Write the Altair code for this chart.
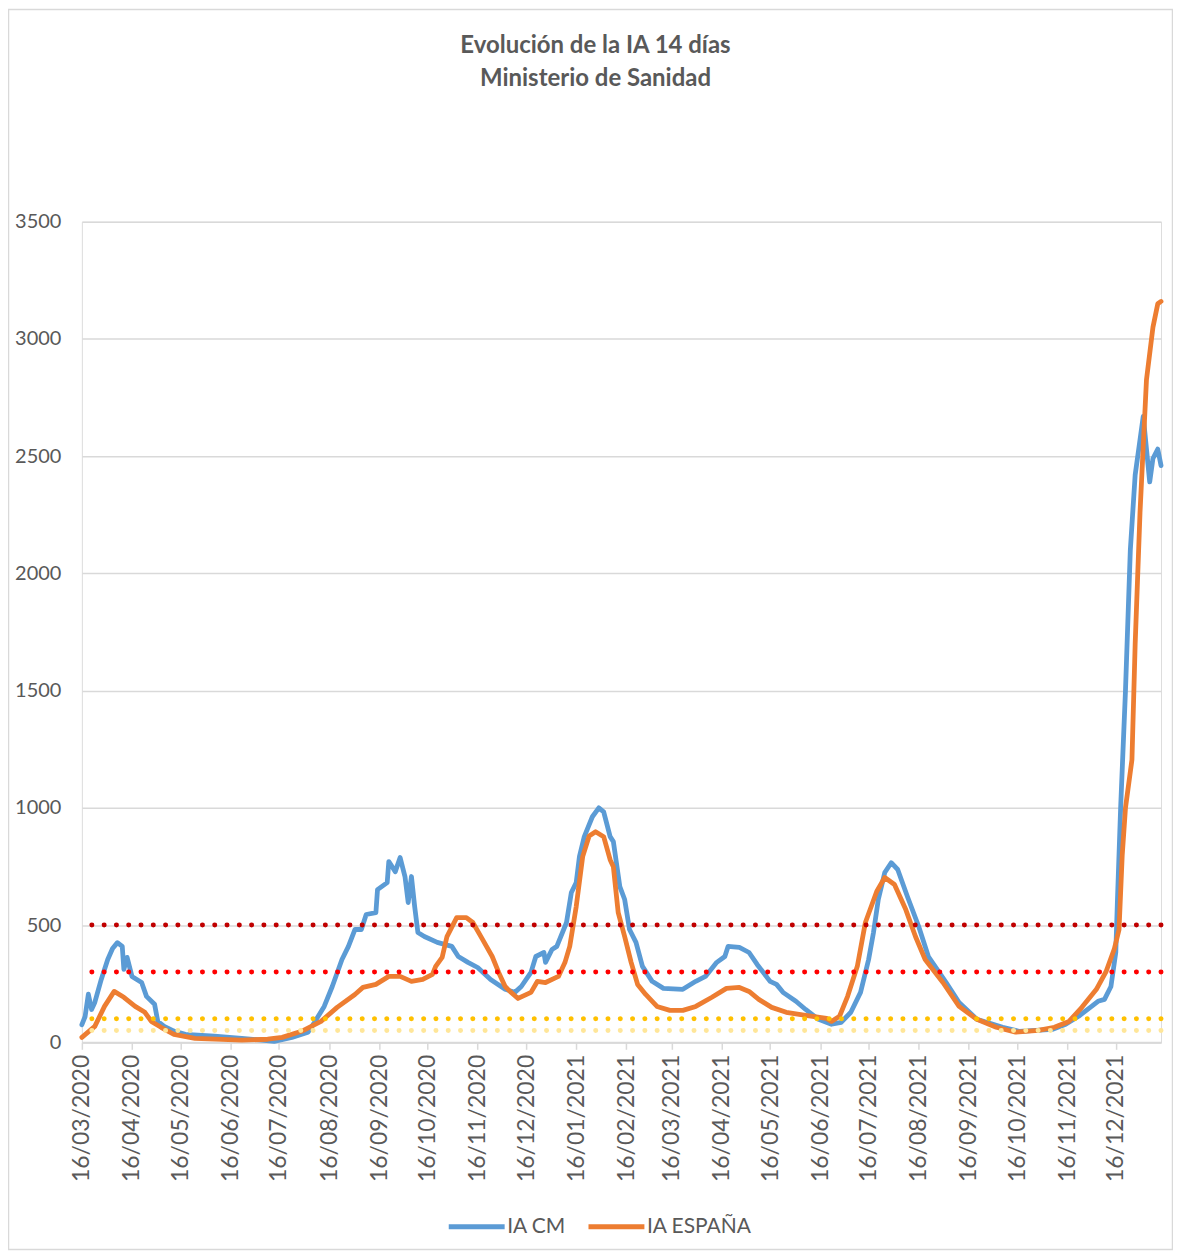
import altair as alt
import pandas as pd

# ---- data ----
cm_dates = [
    "2020-03-16", "2020-03-18", "2020-03-20", "2020-03-22", "2020-03-24", "2020-03-28",
    "2020-04-01", "2020-04-04", "2020-04-07", "2020-04-10", "2020-04-11", "2020-04-13",
    "2020-04-16", "2020-04-22", "2020-04-25", "2020-04-30", "2020-05-02", "2020-05-06",
    "2020-05-12", "2020-05-19", "2020-06-06", "2020-06-23", "2020-07-13", "2020-07-24",
    "2020-08-03", "2020-08-07", "2020-08-13", "2020-08-18", "2020-08-24", "2020-08-28",
    "2020-09-01", "2020-09-05", "2020-09-08", "2020-09-14", "2020-09-15", "2020-09-21",
    "2020-09-22", "2020-09-26", "2020-09-29", "2020-10-02", "2020-10-04", "2020-10-06",
    "2020-10-08", "2020-10-10", "2020-10-14", "2020-10-22", "2020-10-31", "2020-11-04",
    "2020-11-10", "2020-11-16", "2020-11-24", "2020-12-03", "2020-12-09", "2020-12-13",
    "2020-12-19", "2020-12-22", "2020-12-27", "2020-12-28", "2021-01-01", "2021-01-04",
    "2021-01-10", "2021-01-13", "2021-01-16", "2021-01-18", "2021-01-21", "2021-01-26",
    "2021-01-30", "2021-02-02", "2021-02-06", "2021-02-08", "2021-02-12", "2021-02-15",
    "2021-02-18", "2021-02-22", "2021-02-26", "2021-03-04", "2021-03-11", "2021-03-23",
    "2021-03-31", "2021-04-06", "2021-04-13", "2021-04-18", "2021-04-20", "2021-04-27",
    "2021-05-03", "2021-05-08", "2021-05-16", "2021-05-20", "2021-05-24", "2021-06-01",
    "2021-06-07", "2021-06-15", "2021-06-23", "2021-06-29", "2021-07-05", "2021-07-11",
    "2021-07-16", "2021-07-19", "2021-07-22", "2021-07-26", "2021-07-30", "2021-08-03",
    "2021-08-09", "2021-08-16", "2021-08-22", "2021-09-02", "2021-09-10", "2021-09-21",
    "2021-10-07", "2021-10-17", "2021-11-07", "2021-11-15", "2021-11-23", "2021-12-01",
    "2021-12-05", "2021-12-09", "2021-12-13", "2021-12-16", "2021-12-17", "2021-12-19",
    "2021-12-22", "2021-12-25", "2021-12-28", "2022-01-02", "2022-01-06", "2022-01-08",
    "2022-01-11", "2022-01-13",
]
cm_values = [
    75, 110, 205, 140, 170, 268,
    353, 400, 425, 409, 311, 362,
    281, 255, 196, 162, 89, 68,
    48, 34, 26, 17, 4, 21,
    43, 85, 153, 238, 353, 409,
    481, 481, 545, 553, 651, 681,
    771, 728, 788, 707, 596, 707,
    579, 468, 451, 426, 409, 366,
    341, 319, 268, 226, 213, 238,
    298, 366, 383, 341, 396, 409,
    511, 639, 681, 792, 877, 962,
    1000, 983, 877, 856, 664, 609,
    481, 426, 324, 260, 230, 226,
    260, 281, 341, 366, 409, 405,
    383, 332, 260, 247, 213, 175,
    140, 98, 77, 85, 128, 213,
    353, 468, 609, 724, 766, 737,
    622, 494, 366, 255, 170, 98,
    64, 47, 55, 77, 111, 153,
    175, 183, 238, 383, 600, 1000,
    1500, 2100, 2420, 2670, 2390, 2490,
    2530, 2460,
]

esp_dates = [
    "2020-03-16", "2020-03-24", "2020-03-30", "2020-04-05", "2020-04-11", "2020-04-18",
    "2020-04-24", "2020-04-28", "2020-05-04", "2020-05-12", "2020-05-25", "2020-06-23",
    "2020-07-09", "2020-07-18", "2020-07-30", "2020-08-11", "2020-08-21", "2020-09-01",
    "2020-09-06", "2020-09-14", "2020-09-22", "2020-09-29", "2020-10-06", "2020-10-13",
    "2020-10-19", "2020-10-21", "2020-10-25", "2020-10-28", "2020-11-03", "2020-11-09",
    "2020-11-13", "2020-11-19", "2020-11-25", "2020-11-29", "2020-12-03", "2020-12-06",
    "2020-12-11", "2020-12-19", "2020-12-23", "2020-12-28", "2021-01-05", "2021-01-09",
    "2021-01-12", "2021-01-16", "2021-01-20", "2021-01-24", "2021-01-28", "2021-02-02",
    "2021-02-06", "2021-02-08", "2021-02-11", "2021-02-15", "2021-02-19", "2021-02-23",
    "2021-02-28", "2021-03-07", "2021-03-15", "2021-03-23", "2021-03-31", "2021-04-10",
    "2021-04-19", "2021-04-27", "2021-05-03", "2021-05-09", "2021-05-17", "2021-05-26",
    "2021-06-07", "2021-06-20", "2021-06-23", "2021-06-28", "2021-07-03", "2021-07-09",
    "2021-07-14", "2021-07-21", "2021-07-26", "2021-08-01", "2021-08-08", "2021-08-14",
    "2021-08-20", "2021-08-31", "2021-09-10", "2021-09-21", "2021-10-03", "2021-10-15",
    "2021-10-29", "2021-11-08", "2021-11-17", "2021-11-25", "2021-12-04", "2021-12-10",
    "2021-12-15", "2021-12-18", "2021-12-20", "2021-12-22", "2021-12-26", "2021-12-28",
    "2021-12-31", "2022-01-04", "2022-01-08", "2022-01-11", "2022-01-13",
]
esp_values = [
    21, 68, 153, 217, 192, 153,
    128, 89, 64, 34, 17, 9,
    13, 21, 47, 89, 149, 204,
    234, 247, 281, 281, 260, 268,
    290, 324, 362, 451, 532, 532,
    511, 439, 366, 298, 238, 217,
    187, 213, 260, 255, 281, 340,
    409, 579, 792, 880, 898, 877,
    779, 749, 553, 451, 341, 247,
    204, 153, 136, 136, 153, 192,
    230, 234, 217, 183, 149, 128,
    115, 102, 89, 111, 196, 324,
    511, 643, 703, 673, 566, 451,
    353, 255, 153, 98, 64, 43,
    51, 64, 89, 149, 226, 302,
    396, 480, 800, 1000, 1205, 1700,
    2260, 2826, 3050, 3150, 3160,
]

series_names = ["IA CM", "IA ESPAÑA"]
threshold_values = [500, 300, 100, 50]
y_ticks = [0, 500, 1000, 1500, 2000, 2500, 3000, 3500]
tick_months = [
    (2020, 3), (2020, 4), (2020, 5), (2020, 6), (2020, 7), (2020, 8), (2020, 9),
    (2020, 10), (2020, 11), (2020, 12), (2021, 1), (2021, 2), (2021, 3), (2021, 4),
    (2021, 5), (2021, 6), (2021, 7), (2021, 8), (2021, 9), (2021, 10), (2021, 11),
    (2021, 12),
]
title_lines = ["Evolución de la IA 14 días", "Ministerio de Sanidad"]

# ---- build tables ----
df = pd.DataFrame({
    "fecha": cm_dates + esp_dates,
    "ia": cm_values + esp_values,
    "serie": [series_names[0]] * len(cm_dates) + [series_names[1]] * len(esp_dates),
})
thr_df = pd.DataFrame({"umbral": threshold_values})

W, H = 1081, 822
PAD = {"left": 74, "top": 213, "right": 12, "bottom": 209}
GRAY_TXT = "#595959"
GRID = "#d9d9d9"
FONT = "Lato"

x_scale = alt.Scale(
    type="utc",
    domain=[alt.DateTime(year=2020, month=3, date=16, utc=True),
            alt.DateTime(year=2022, month=1, date=13, utc=True)],
    nice=False,
)
x_axis = alt.Axis(
    values=[alt.DateTime(year=y, month=m, date=16, utc=True) for y, m in tick_months],
    labelExpr="utcFormat(datum.value, '%d/%m/%Y')",
    labelAngle=270,
    labelFontSize=23,
    labelColor=GRAY_TXT,
    labelFont=FONT,
    labelPadding=5,
    labelOverlap=False,
    labelFlush=False,
    tickColor=GRID,
    tickSize=7,
    tickWidth=1.5,
    domainColor=GRID,
    domainWidth=2,
    grid=False,
    title=None,
)
y_scale = alt.Scale(domain=[0, 3500], nice=False)
y_axis = alt.Axis(
    values=y_ticks,
    format="d",
    grid=True,
    gridColor=GRID,
    gridWidth=1.5,
    domain=False,
    ticks=False,
    labelFontSize=20,
    labelColor=GRAY_TXT,
    labelFont=FONT,
    labelPadding=21,
    title=None,
)

frame = alt.Chart(pd.DataFrame({"k": [0]})).mark_rect(
    fillOpacity=0, stroke=GRID, strokeWidth=1.5
).encode(
    x=alt.value(-73.5), x2=alt.value(W + PAD["right"] - 0.5),
    y=alt.value(-PAD["top"] + 0.5), y2=alt.value(H + PAD["bottom"] - 1.5),
)

lines = alt.Chart(df).mark_line(
    strokeWidth=4.8, strokeJoin="round", strokeCap="round"
).encode(
    x=alt.X("fecha:T", scale=x_scale, axis=x_axis),
    y=alt.Y("ia:Q", scale=y_scale, axis=y_axis),
    color=alt.Color(
        "serie:N",
        scale=alt.Scale(domain=series_names, range=["#5B9BD5", "#ED7D31"]),
        legend=alt.Legend(
            orient="none", legendX=365, legendY=976, direction="horizontal",
            title=None, symbolType="stroke", symbolSize=3136, symbolStrokeWidth=5,
            labelFontSize=21, labelColor=GRAY_TXT, labelFont=FONT,
            labelOffset=0, columnPadding=12, padding=0,
        ),
    ),
)

rules = alt.Chart(thr_df).mark_rule(
    strokeDash=[0.01, 12.3], strokeCap="round", strokeWidth=5
).encode(
    y=alt.Y("umbral:Q", scale=y_scale),
    color=alt.Color(
        "umbral:N",
        scale=alt.Scale(domain=threshold_values,
                        range=["#C00000", "#FF0000", "#FFC000", "#FFE699"]),
        legend=None,
    ),
)

chart = alt.layer(frame, lines, rules).resolve_scale(color="independent").properties(
    width=W,
    height=H,
    autosize=alt.AutoSizeParams(type="none"),
    padding=PAD,
    title=alt.TitleParams(
        text=title_lines, fontSize=24, fontWeight="bold", color=GRAY_TXT,
        font=FONT, lineHeight=33, anchor="middle", dx=-26, offset=-82,
    ),
).configure_view(stroke=None).configure(font=FONT)

chart.save("out.html", embed_options={"renderer": "svg", "actions": False})
